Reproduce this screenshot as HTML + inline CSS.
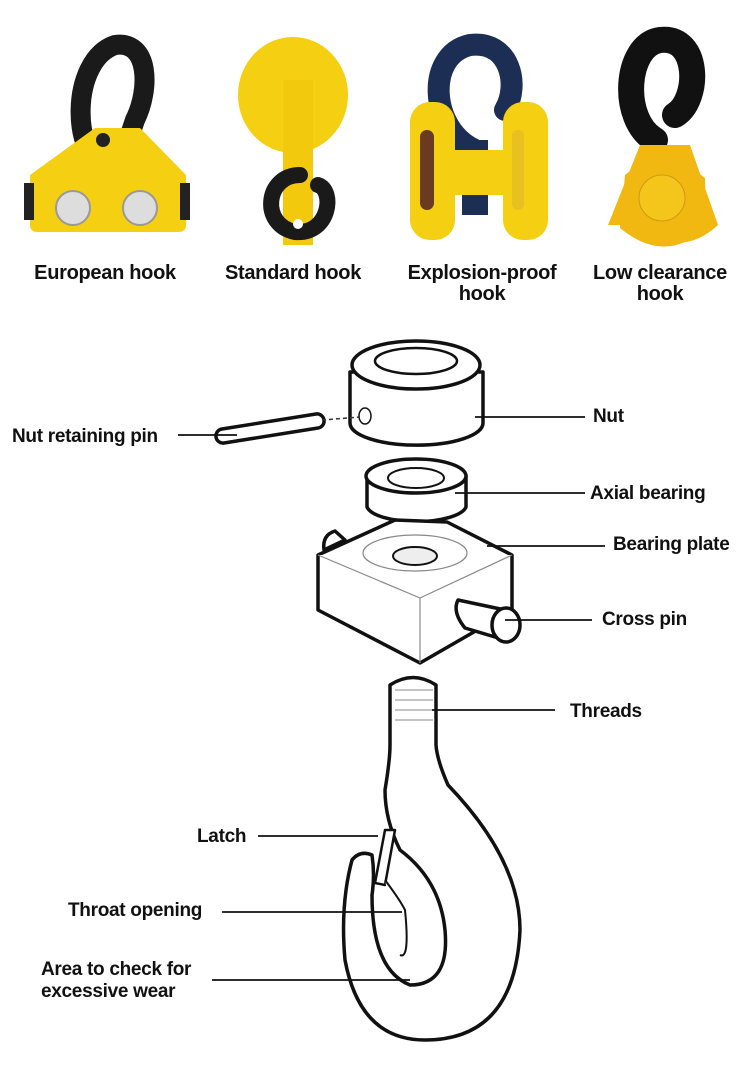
<!DOCTYPE html>
<html><head><meta charset="utf-8"><style>
body{margin:0;background:#fff;width:750px;height:1080px;overflow:hidden;font-family:"Liberation Sans",sans-serif}
svg{position:absolute;left:0;top:0}
.t{font-family:"Liberation Sans",sans-serif;font-size:19px;fill:#111;font-weight:bold;letter-spacing:-0.3px}
</style></head><body>
<svg width="750" height="1080" viewBox="0 0 750 1080">
<g fill="none" stroke-linecap="round">
<!-- European hook -->
<path d="M110,170 C70,160 70,60 115,45 C150,40 150,90 135,120 L118,170" stroke="#1a1a1a" stroke-width="20"/>
<path d="M30,175 L95,128 L140,128 L186,175 L186,225 Q186,232 178,232 L38,232 Q30,232 30,225Z" fill="#f4cf12"/>
<rect x="24" y="183" width="10" height="37" fill="#222"/><rect x="180" y="183" width="10" height="37" fill="#222"/>
<circle cx="73" cy="208" r="17" fill="#ddd" stroke="#999" stroke-width="2"/><circle cx="140" cy="208" r="17" fill="#ddd" stroke="#999" stroke-width="2"/>
<circle cx="103" cy="140" r="7" fill="#222"/>
<!-- Standard hook -->
<ellipse cx="293" cy="95" rx="55" ry="58" fill="#f4cf12"/>
<rect x="283" y="80" width="30" height="165" fill="#f2c90c"/>
<path d="M300,175 C265,175 260,225 295,232 C330,235 335,190 318,185" stroke="#1a1a1a" stroke-width="16"/>
<circle cx="298" cy="224" r="5" fill="#fff" stroke="none"/>
<!-- Explosion-proof -->
<path d="M475,150 C430,130 425,55 470,45 C510,40 520,85 505,110" stroke="#1d2e55" stroke-width="22"/>
<rect x="462" y="140" width="26" height="75" fill="#1d2e55"/>
<rect x="410" y="102" width="45" height="138" rx="20" fill="#f4cf12"/>
<rect x="503" y="102" width="45" height="138" rx="20" fill="#f4cf12"/>
<rect x="450" y="150" width="56" height="45" fill="#f4cf12"/>
<rect x="420" y="130" width="14" height="80" rx="7" fill="#6a3b20"/>
<rect x="512" y="130" width="12" height="80" rx="6" fill="#e8c020"/>
<!-- Low clearance -->
<path d="M655,140 C620,120 625,45 660,40 C700,35 700,100 675,115" stroke="#111" stroke-width="26"/>
<path d="M640,145 L690,145 L718,225 Q680,260 640,225 L608,225 Z" fill="#f1b812"/>
<path d="M625,175 L663,145 L705,178 L706,228 Q665,265 620,228 Z" fill="#f1b812"/>
<circle cx="662" cy="198" r="23" fill="#f4c51a" stroke="#d09a10"/>
</g>
<g class="t" text-anchor="middle" style="font-size:20px">
<text x="105" y="279">European hook</text>
<text x="293" y="279">Standard hook</text>
<text x="482" y="279">Explosion-proof</text><text x="482" y="300">hook</text>
<text x="660" y="279">Low clearance</text><text x="660" y="300">hook</text>
</g>
<!-- Diagram -->
<g fill="#fff" stroke="#111" stroke-width="3.5" stroke-linejoin="round">
<path d="M350,372 L350,423 A66,22 0 0 0 483,423 L483,372 Z"/>
<ellipse cx="416" cy="365" rx="64" ry="24"/>
<ellipse cx="416" cy="361" rx="41" ry="13" stroke-width="2.5"/>
<ellipse cx="365" cy="416" rx="6" ry="8" stroke-width="1.5"/>
<path d="M222,429 L316,414 A7,7 0 0 1 318,428 L224,443 A7,7 0 0 1 222,429Z"/>
<path d="M367,476 L367,507 A50,17 0 0 0 466,507 L466,476 Z"/>
<ellipse cx="416" cy="476" rx="50" ry="17"/>
<ellipse cx="416" cy="478" rx="28" ry="10" stroke-width="2"/>
<path d="M335,531 Q322,535 324,550 L345,540 Z"/>
<path d="M318,555 L395,520 L447,522 L512,555 L512,610 L420,663 L318,610 Z"/>
<path d="M318,555 L420,598 L512,555" stroke-width="1.2" stroke="#888"/>
<path d="M420,598 L420,663" stroke-width="1.2" stroke="#888"/>
<ellipse cx="415" cy="553" rx="52" ry="18" stroke-width="1.2" stroke="#888"/>
<ellipse cx="415" cy="556" rx="22" ry="9" stroke-width="2" fill="#eee"/>
<path d="M458,600 L505,610 L505,640 L465,628 Q452,612 458,600Z"/>
<ellipse cx="506" cy="625" rx="14" ry="17"/>
<path d="M390,685 Q413,670 436,685 L436,745 Q437,760 448,785 Q520,860 520,930 Q515,1040 425,1040 Q360,1040 345,960 Q340,905 352,860 Q360,850 372,855 Q375,875 372,895 Q372,970 410,985 Q450,985 445,930 Q440,880 400,850 Q385,820 385,790 Q390,760 390,745 Z"/>
<path d="M385,830 L375,883 L385,885 L395,830 Z" stroke-width="2.5"/>
<path d="M385,880 Q400,900 405,910 Q410,960 400,955" stroke-width="2"/>
<path d="M395,690 L433,690 M395,700 L433,700 M395,710 L433,710 M395,720 L433,720" stroke-width="1" stroke="#888"/>
</g>
<path d="M322,420 L360,417" stroke="#333" stroke-width="1.5" stroke-dasharray="4,3"/>
<g stroke="#111" stroke-width="1.8">
<line x1="178" y1="435" x2="237" y2="435"/>
<line x1="475" y1="417" x2="585" y2="417"/>
<line x1="455" y1="493" x2="585" y2="493"/>
<line x1="487" y1="546" x2="605" y2="546"/>
<line x1="505" y1="620" x2="592" y2="620"/>
<line x1="432" y1="710" x2="555" y2="710"/>
<line x1="258" y1="836" x2="378" y2="836"/>
<line x1="222" y1="912" x2="402" y2="912"/>
<line x1="212" y1="980" x2="410" y2="980"/>
</g>
<g class="t">
<text x="12" y="442">Nut retaining pin</text>
<text x="593" y="422">Nut</text>
<text x="590" y="499">Axial bearing</text>
<text x="613" y="550">Bearing plate</text>
<text x="602" y="625">Cross pin</text>
<text x="570" y="717">Threads</text>
<text x="197" y="842">Latch</text>
<text x="68" y="916">Throat opening</text>
<text x="41" y="975">Area to check for</text>
<text x="41" y="997">excessive wear</text>
</g>
</svg>
</body></html>
